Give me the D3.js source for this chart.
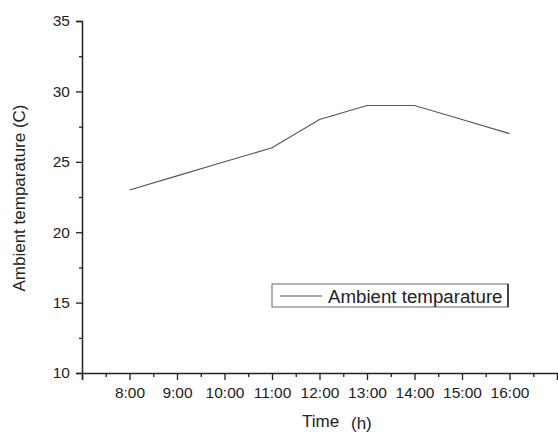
<!DOCTYPE html>
<html>
<head>
<meta charset="utf-8">
<script src="https://cdn.jsdelivr.net/npm/d3@7"></script>
<style>
  body { margin: 0; background: #fff; }
  svg { display: block; font-family: Arial, "Liberation Sans", sans-serif; }
</style>
</head>
<body>
<div id="chart"></div>
<script>
// data
const hours = [8, 9, 10, 11, 12, 13, 14, 15, 16];
const temps = [23, 24, 25, 26, 28, 29, 29, 28, 27];
const hourLabels = ["8:00", "9:00", "10:00", "11:00", "12:00", "13:00", "14:00", "15:00", "16:00"];
const yTicks = [10, 15, 20, 25, 30, 35];
const seriesName = "Ambient temparature";

const width = 558, height = 432;
const plotLeft = 82, plotRight = 557, plotTop = 21, plotBottom = 373;

const svg = d3.select("#chart").append("svg")
    .attr("width", width)
    .attr("height", height);

const x = d3.scaleLinear().domain([7, 17]).range([plotLeft, plotRight]);
const y = d3.scaleLinear().domain([10, 35]).range([plotBottom, plotTop]);

// y axis - major ticks with labels, minor ticks in between
svg.append("g")
    .attr("transform", `translate(${plotLeft},0)`)
    .call(d3.axisLeft(y).tickValues(yTicks).tickSize(6).tickPadding(6).tickFormat(d3.format("d")));
svg.append("g")
    .attr("transform", `translate(${plotLeft},0)`)
    .call(d3.axisLeft(y).tickValues(d3.range(12.5, 35, 5)).tickSize(3).tickFormat(""))
    .select(".domain").remove();

// x axis
svg.append("g")
    .attr("transform", `translate(0,${plotBottom})`)
    .call(d3.axisBottom(x).tickValues(d3.range(7, 17, 1)).tickSize(7).tickPadding(7)
        .tickFormat(d => { const i = hours.indexOf(d); return i >= 0 ? hourLabels[i] : ""; }));
svg.append("g")
    .attr("transform", `translate(0,${plotBottom})`)
    .call(d3.axisBottom(x).tickValues(d3.range(7.5, 17, 1)).tickSize(4).tickFormat(""))
    .select(".domain").remove();

svg.selectAll(".domain").attr("stroke", "#222").attr("stroke-width", 1.5);
svg.selectAll(".tick line").attr("stroke", "#222").attr("stroke-width", 1.3);
svg.selectAll(".tick text").attr("font-size", 15.5).attr("fill", "#222")
    .attr("font-family", "Arial, 'Liberation Sans', sans-serif");

// the line
const line = d3.line()
    .x((d, i) => x(hours[i]))
    .y(d => y(d));
svg.append("path")
    .datum(temps)
    .attr("fill", "none")
    .attr("stroke", "#555")
    .attr("stroke-width", 1.1)
    .attr("d", line);

// axis titles
svg.append("text")
    .attr("transform", "translate(25,198) rotate(-90)")
    .attr("text-anchor", "middle")
    .attr("font-size", 17)
    .attr("fill", "#222")
    .text("Ambient temparature (C)");

const xt = svg.append("text")
    .attr("y", 427)
    .attr("font-size", 17)
    .attr("fill", "#222");
xt.append("tspan").attr("x", 302).text("Time");
xt.append("tspan").attr("x", 351).attr("dy", 1.5).text("(h)");

// legend
const lg = svg.append("g");
lg.append("rect")
    .attr("x", 272).attr("y", 284)
    .attr("width", 236).attr("height", 23)
    .attr("fill", "#fff")
    .attr("stroke", "#666")
    .attr("stroke-width", 1);
lg.append("line")
    .attr("x1", 508).attr("x2", 508).attr("y1", 284).attr("y2", 307)
    .attr("stroke", "#222").attr("stroke-width", 1.5);
lg.append("line")
    .attr("x1", 280).attr("x2", 322).attr("y1", 296).attr("y2", 296)
    .attr("stroke", "#555").attr("stroke-width", 1.1);
lg.append("text")
    .attr("x", 328).attr("y", 302.5)
    .attr("font-size", 18.7)
    .attr("fill", "#222")
    .text(seriesName);
</script>
</body>
</html>
